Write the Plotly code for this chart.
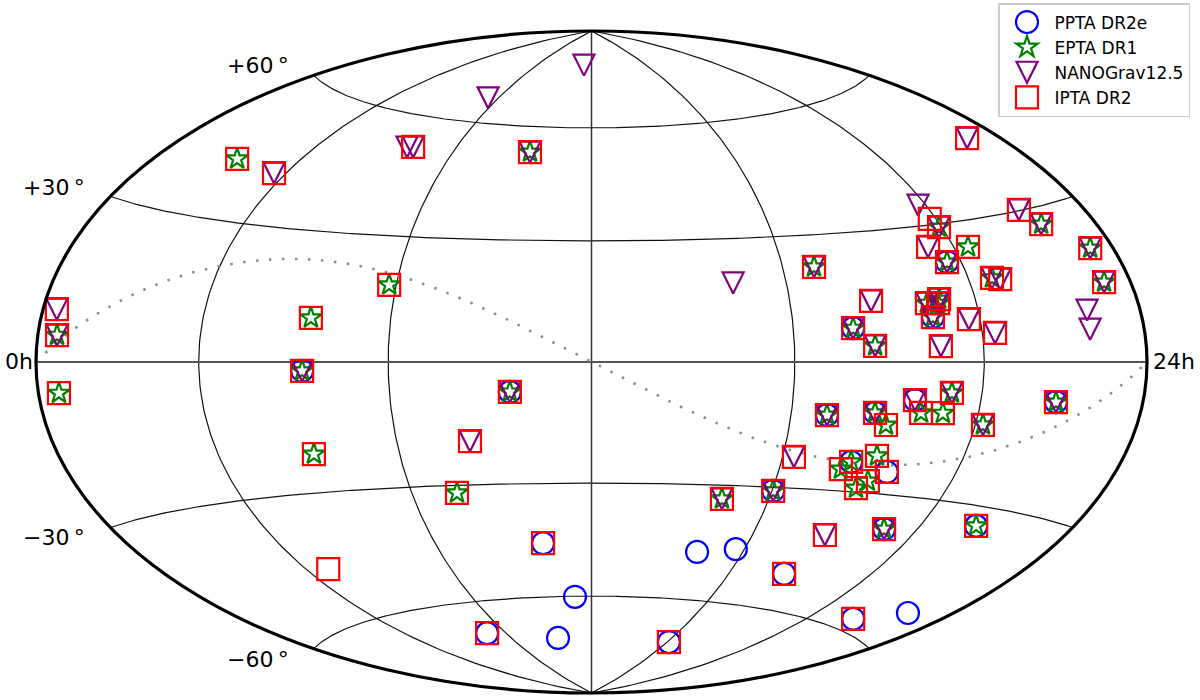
import numpy as np
import plotly.graph_objects as go

# Sky positions in degrees
ppta_ra = [295.0,284.4,258.4,251.1,266.1,278.2,326.4,262.7,276.0,240.4,287.5,321.2,221.9,236.6,263.6,340.9,322.0,241.3,154.3,171.6,107.9,161.4,156.0,93.5]
ppta_dec = [21.7,9.9,7.8,-12.4,-11.6,-8.5,-7.9,-23.1,-24.9,-30.9,-37.7,-34.0,-47.2,-45.9,-50.9,-52.7,-57.3,-72.1,-72.0,-60.2,-68.7,-45.4,-7.3,-2.0]

epta_ra = [299.0,305.1,295.0,250.1,337.9,350.7,349.3,308.3,283.4,287.8,287.1,284.4,258.4,264.8,251.1,266.1,270.4,280.9,288.1,289.9,
           302.6,326.4,262.7,260.2,270.5,271.0,268.1,240.4,224.0,287.5,321.2,156.0,135.2,92.3,93.5,8.3,7.8,95.2,117.8,34.2,153.2]
epta_dec = [29.3,24.5,21.7,22.4,26.8,20.9,14.6,17.6,13.0,13.8,12.9,9.9,7.8,3.7,-12.4,-11.6,-14.3,-11.3,-11.2,-6.7,
            -13.3,-7.9,-23.1,-24.9,-21.4,-27.3,-29.1,-30.9,-33.4,-37.7,-34.0,-7.3,-31.9,-21.1,-2.0,-5.6,4.8,10.1,18.3,42.6,53.0]

nanograv_ra = [346.2,297.1,299.0,291.0,295.0,250.1,333.7,337.9,350.7,349.3,308.3,311.0,265.5,283.4,287.8,287.1,284.4,258.4,264.8,296.2,
               304.3,285.8,339.0,338.6,251.1,266.1,278.2,289.9,302.6,326.4,243.6,240.4,224.0,287.5,267.1,156.0,142.8,93.5,7.8,5.6,
               55.3,98.6,101.2,153.2,113.7,171.3,223.4]
nanograv_dec = [44.8,34.5,29.3,25.3,21.7,22.4,30.2,26.8,20.9,14.6,17.6,17.2,14.0,13.0,13.8,12.9,9.9,7.8,3.7,9.2,
                6.1,3.5,9.8,6.2,-12.4,-11.6,-8.5,-6.7,-13.3,-7.9,-22.5,-30.9,-33.4,-37.7,-40.6,-7.3,-19.2,-2.0,4.8,9.4,
                41.5,51.9,52.1,53.0,66.9,78.7,19.1]

ipta_ra = [346.2,297.7,299.0,291.0,305.1,295.0,250.1,333.7,337.9,350.7,349.3,308.3,311.0,265.5,283.4,287.8,287.1,284.4,258.4,264.8,
           296.2,304.3,285.8,251.1,266.1,270.4,278.2,280.9,288.1,289.9,302.6,326.4,243.6,262.7,260.2,270.5,276.0,271.0,268.1,240.4,
           224.0,287.5,321.2,267.1,263.6,322.0,241.3,107.9,161.4,69.1,135.2,92.3,142.8,156.0,93.5,8.3,7.8,5.6,95.2,117.8,
           34.2,55.3,101.2,153.2]
ipta_dec = [44.8,31.3,29.3,25.3,24.5,21.7,22.4,30.2,26.8,20.9,14.6,17.6,17.2,14.0,13.0,13.8,12.9,9.9,7.8,3.7,
            9.2,6.1,3.5,-12.4,-11.6,-14.3,-8.5,-11.3,-11.2,-6.7,-13.3,-7.9,-22.5,-23.1,-24.9,-21.4,-24.9,-27.3,-29.1,-30.9,
            -33.4,-37.7,-34.0,-40.6,-50.9,-57.3,-72.1,-68.7,-45.4,-47.4,-31.9,-21.1,-19.2,-7.3,-2.0,-5.6,4.8,9.4,10.1,18.3,
            42.6,41.5,52.1,53.0]

dec_labels = ["+60\u2009°", "+30\u2009°", "\u221230\u2009°", "\u221260\u2009°"]
ra_labels = ["0h", "24h"]
meridians = [60, 120, 240, 300]
parallels = [-60, -30, 30, 60]


def hammer(ra, dec):
    """Hammer projection, scaled so the sky ellipse fills [-1, 1] on both axes."""
    lam = np.radians(np.asarray(ra, dtype=float) - 180.0)
    phi = np.radians(np.asarray(dec, dtype=float))
    d = np.sqrt(1 + np.cos(phi) * np.cos(lam / 2))
    return np.cos(phi) * np.sin(lam / 2) / d, np.sin(phi) / d


def polyline(pairs):
    xs, ys = [], []
    for ra, dec in pairs:
        x, y = hammer(ra, dec)
        xs += list(x) + [None]
        ys += list(y) + [None]
    return xs, ys


sweep_dec = np.linspace(-90, 90, 181)
sweep_ra = np.linspace(0, 360, 361)
fig = go.Figure()


def guide(pairs, color, width, dash="solid"):
    xs, ys = polyline(pairs)
    fig.add_trace(go.Scatter(x=xs, y=ys, mode="lines", showlegend=False, hoverinfo="skip",
                             line=dict(color=color, width=width, dash=dash)))


guide([(np.full_like(sweep_dec, m), sweep_dec) for m in meridians], "#111111", 1.2)
guide([(sweep_ra, np.full_like(sweep_ra, p)) for p in parallels], "#111111", 1.2)
guide([(np.full_like(sweep_dec, 180.0), sweep_dec)], "#333333", 1.5)
guide([(sweep_ra, np.zeros_like(sweep_ra))], "#555555", 1.8)
ecliptic_dec = np.degrees(np.arctan(np.sin(np.radians(sweep_ra)) * np.tan(np.radians(23.44))))
guide([(sweep_ra, ecliptic_dec)], "#8c8c8c", 2.6, "2.5px,10.5px")
first_series_trace = len(fig.data)

series = [
    ("PPTA DR2e", ppta_ra, ppta_dec, "circle-open", 22, "blue"),
    ("EPTA DR1", epta_ra, epta_dec, "star-open", 16, "green"),
    ("NANOGrav12.5", nanograv_ra, nanograv_dec, "triangle-down-open", 20, "purple"),
    ("IPTA DR2", ipta_ra, ipta_dec, "square-open", 22, "red"),
]
for name, ra, dec, symbol, size, color in series:
    x, y = hammer(ra, dec)
    fig.add_trace(go.Scatter(x=x, y=y, mode="markers", name=name,
                             marker=dict(symbol=symbol, size=size, color=color, line=dict(color=color, width=2.2))))

CX, CY, HW, HH = 591.5, 362.0, 555.5, 331.0
annotations = []
for text, px, py in zip(dec_labels + ra_labels,
                        [225, 21, 21, 225, 3, 1151], [65, 187, 537, 659, 361, 361]):
    annotations.append(dict(x=px / 1200, y=1 - py / 700, xref="paper", yref="paper", text=text, showarrow=False,
                            xanchor="left", yanchor="middle", font=dict(family="DejaVu Sans", size=22, color="black")))

fig.update_layout(
    width=1200, height=700, margin=dict(l=0, r=0, t=0, b=0), paper_bgcolor="white", plot_bgcolor="white",
    xaxis=dict(visible=False, range=[-CX / HW, (1200 - CX) / HW], fixedrange=True),
    yaxis=dict(visible=False, range=[(CY - 700) / HH, CY / HH], fixedrange=True),
    shapes=[dict(type="circle", xref="x", yref="y", x0=-1, x1=1, y0=-1, y1=1, line=dict(color="black", width=3.2))],
    annotations=annotations,
    legend=dict(x=998 / 1200, y=1 - 3 / 700, xanchor="left", yanchor="top", bgcolor="white",
                bordercolor="#cccccc", borderwidth=1.5, itemwidth=45,
                font=dict(family="DejaVu Sans", size=17, color="black")),
)

# Page margin off; the reference's triangles are as tall as they are wide, which
# Plotly's symbol is not, so that one marker outline is redrawn in place. Legend
# keys take the size of their plotted markers (Plotly caps them at 16 px).
post_script = """
document.body.style.margin = '0';
var gd = document.getElementById('{plot_id}');
function reshape() {
  var traces = gd.querySelectorAll('.scatterlayer .trace');
  var keys = gd.querySelectorAll('.legend .traces');
  for (var i = 0; i < 4; i++) {
    var points = traces[%d + i].querySelectorAll('path.point');
    if (i === 2) {
      points.forEach(function (p) { p.setAttribute('d', 'M-10.5,-10.5H10.5L0,10.5Z'); });
    }
    var key = keys[i].querySelector('.legendpoints path.scatterpts');
    if (key && points.length) { key.setAttribute('d', points[0].getAttribute('d')); }
  }
}
reshape();
gd.on('plotly_afterplot', reshape);
""" % first_series_trace
fig.write_html("out.html", post_script=post_script, config=dict(displayModeBar=False))
